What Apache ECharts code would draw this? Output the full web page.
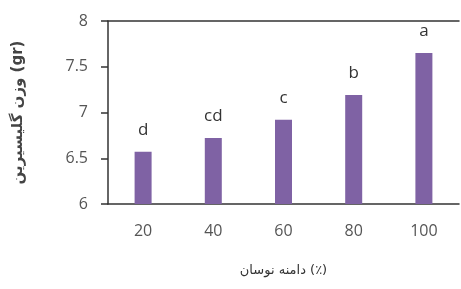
<!DOCTYPE html>
<html lang="fa">
<head>
    <meta charset="UTF-8">
    <title>Glycerin weight</title>
    <script src="https://cdn.jsdelivr.net/npm/echarts@6/dist/echarts.min.js"></script>
    <style>
        html, body { margin: 0; padding: 0; background: #fff; }
        #chart { width: 461px; height: 289px; }
    </style>
</head>
<body>
<div id="chart"></div>
<script>
    // amplitude (%) categories and glycerin weight per treatment
    const categories = ['20', '40', '60', '80', '100'];
    const weights = [6.57, 6.72, 6.92, 7.19, 7.65];
    const letters = ['d', 'cd', 'c', 'b', 'a'];
    const yTicks = [6, 6.5, 7, 7.5, 8];

    const axisColor = '#333';
    const labelColor = '#555';

    const chart = echarts.init(document.getElementById('chart'));
    chart.setOption({
        animation: false,
        grid: { left: 108, right: 2, top: 21, bottom: 85 },
        xAxis: [
            {
                type: 'category',
                data: categories,
                name: 'دامنه نوسان (٪)',
                nameLocation: 'middle',
                nameGap: 60,
                nameTextStyle: { fontFamily: 'DejaVu Sans', fontSize: 13, color: '#333' },
                axisLine: { lineStyle: { color: axisColor, width: 1.5 } },
                axisTick: { show: false },
                axisLabel: { color: labelColor, fontFamily: 'Open Sans', fontSize: 16, margin: 19 }
            },
            {
                type: 'category',
                data: categories,
                position: 'top',
                axisLine: { lineStyle: { color: axisColor, width: 1.5 } },
                axisTick: { show: false },
                axisLabel: { show: false }
            }
        ],
        yAxis: {
            type: 'value',
            min: yTicks[0],
            max: yTicks[yTicks.length - 1],
            interval: 0.5,
            name: 'وزن گلیسیرین (gr)',
            nameLocation: 'middle',
            nameGap: 82,
            nameTextStyle: { fontFamily: 'DejaVu Sans', fontSize: 15, fontWeight: 'bold', color: '#444' },
            axisLine: { show: true, lineStyle: { color: axisColor, width: 1.5 } },
            axisTick: { show: true, length: 7, lineStyle: { color: axisColor, width: 1.5 } },
            axisLabel: { color: labelColor, fontFamily: 'Open Sans', fontSize: 16, margin: 20 },
            splitLine: { show: false }
        },
        series: [{
            type: 'bar',
            data: weights,
            barWidth: 17,
            itemStyle: { color: '#7f62a4' },
            label: {
                show: true,
                position: 'top',
                distance: 13,
                color: '#333',
                fontFamily: 'Open Sans',
                fontSize: 17,
                formatter: p => letters[p.dataIndex]
            }
        }]
    });
</script>
</body>
</html>
